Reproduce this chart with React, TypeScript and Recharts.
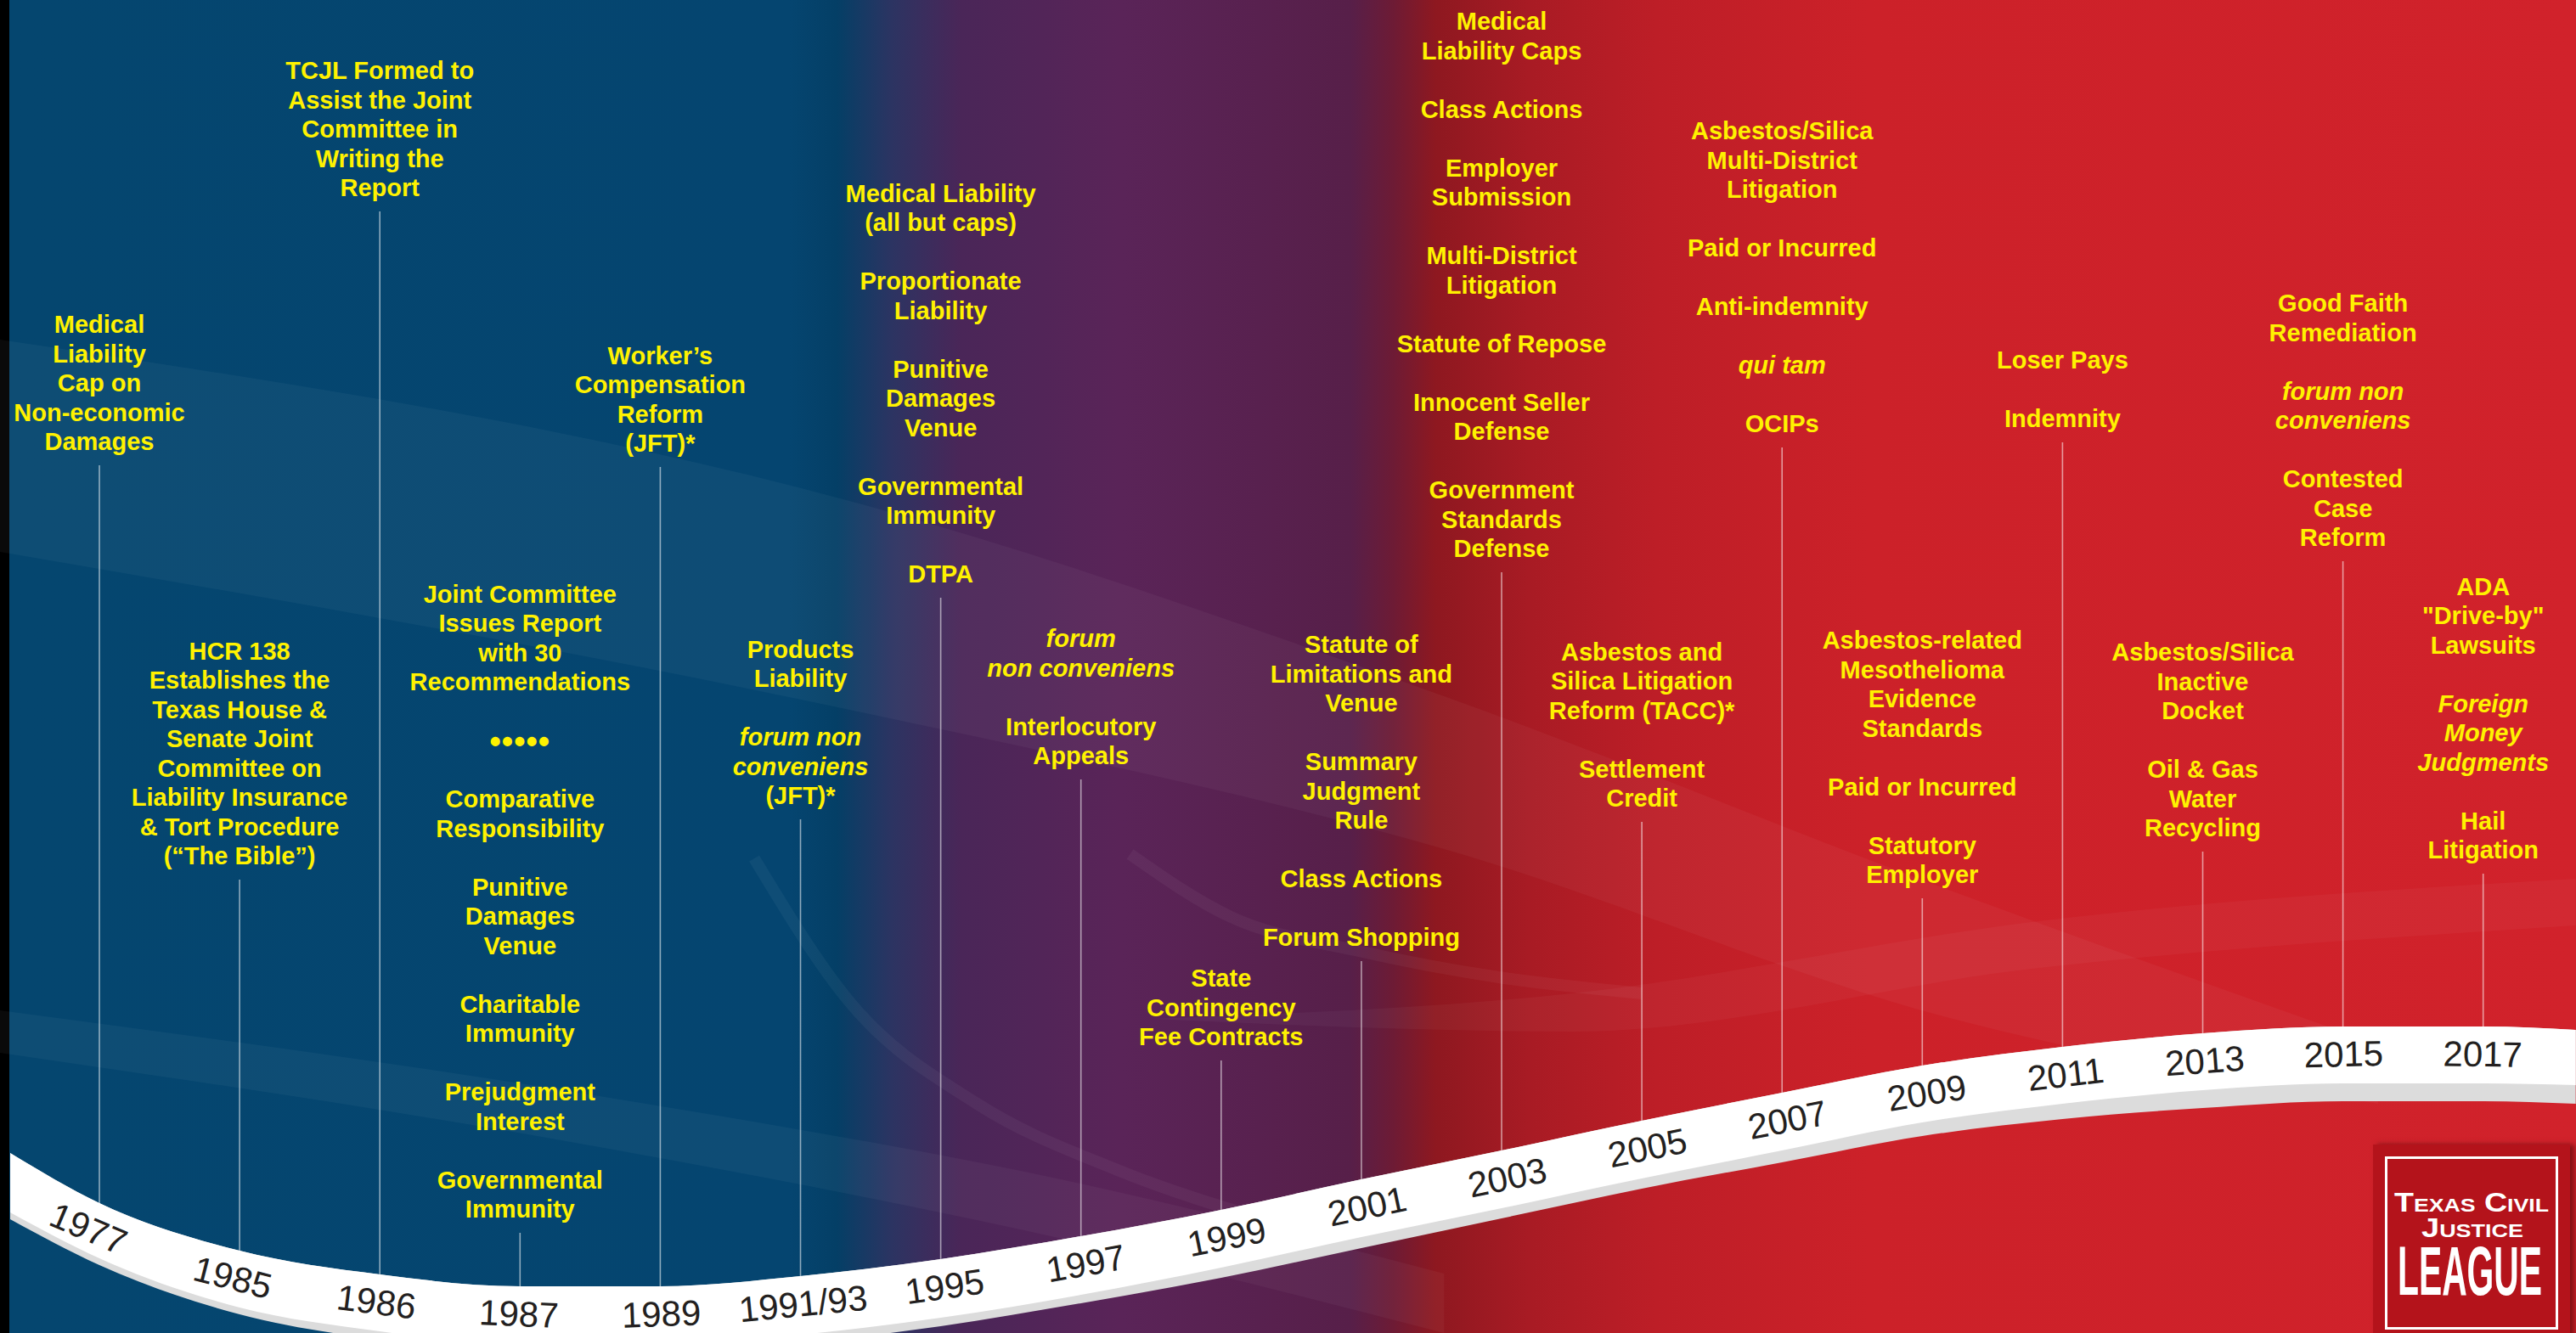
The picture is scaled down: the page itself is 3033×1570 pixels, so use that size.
import { Area, ComposedChart, Line, ReferenceLine, Scatter, XAxis, YAxis } from "recharts";

const W = 3033;
const H = 1570;

// timeline slots (one per year label), y values are distance from the top of the picture
const years = ["1977", "1985", "1986", "1987", "1989", "1991/93", "1995", "1997", "1999", "2001", "2003", "2005", "2007", "2009", "2011", "2013", "2015", "2017"];
const stemTop = [548, 1036, 249, 1452, 550, 965, 704, 918, 1249, 1132, 674, 968, 527, 1058, 521, 1003, 661, 1029];

// "~" at the start of a line = italic
const notes: string[][] = [
  ["Medical\nLiability\nCap on\nNon-economic\nDamages"],
  ["HCR 138\nEstablishes the\nTexas House &\nSenate Joint\nCommittee on\nLiability Insurance\n& Tort Procedure\n(“The Bible”)"],
  ["TCJL Formed to\nAssist the Joint\nCommittee in\nWriting the\nReport"],
  ["Joint Committee\nIssues Report\nwith 30\nRecommendations", "•••••", "Comparative\nResponsibility", "Punitive\nDamages\nVenue", "Charitable\nImmunity", "Prejudgment\nInterest", "Governmental\nImmunity"],
  ["Worker’s\nCompensation\nReform\n(JFT)*"],
  ["Products\nLiability", "~forum non\n~conveniens\n(JFT)*"],
  ["Medical Liability\n(all but caps)", "Proportionate\nLiability", "Punitive\nDamages\nVenue", "Governmental\nImmunity", "DTPA"],
  ["~forum\n~non conveniens", "Interlocutory\nAppeals"],
  ["State\nContingency\nFee Contracts"],
  ["Statute of\nLimitations and\nVenue", "Summary\nJudgment\nRule", "Class Actions", "Forum Shopping"],
  ["Medical\nLiability Caps", "Class Actions", "Employer\nSubmission", "Multi-District\nLitigation", "Statute of Repose", "Innocent Seller\nDefense", "Government\nStandards\nDefense"],
  ["Asbestos and\nSilica Litigation\nReform (TACC)*", "Settlement\nCredit"],
  ["Asbestos/Silica\nMulti-District\nLitigation", "Paid or Incurred", "Anti-indemnity", "~qui tam", "OCIPs"],
  ["Asbestos-related\nMesothelioma\nEvidence\nStandards", "Paid or Incurred", "Statutory\nEmployer"],
  ["Loser Pays", "Indemnity"],
  ["Asbestos/Silica\nInactive\nDocket", "Oil & Gas\nWater\nRecycling"],
  ["Good Faith\nRemediation", "~forum non\n~conveniens", "Contested\nCase\nReform"],
  ["ADA\n\"Drive-by\"\nLawsuits", "~Foreign\n~Money\n~Judgments", "Hail\nLitigation"],
];

// white ribbon: left edge, one point per year, right edge
const ribbonX = [-0.636, 0, 1, 2, 3, 4, 5, 6, 7, 8, 9, 10, 11, 12, 13, 14, 15, 16, 17, 17.66];
const ribbonTop = [1358, 1417, 1473, 1501, 1515, 1515, 1503, 1483, 1456, 1425, 1389, 1355, 1320, 1287, 1255, 1233, 1217, 1209, 1209, 1213];
const ribbonBottom = [1428, 1482, 1540, 1568, 1585, 1585, 1572, 1552, 1525, 1493, 1457, 1423, 1388, 1355, 1322, 1300, 1284, 1276, 1276, 1278];
const ribbonShade = [1436, 1490, 1548, 1578, 1595, 1595, 1582, 1562, 1535, 1505, 1470, 1435, 1400, 1369, 1338, 1318, 1305, 1297, 1297, 1300];

// faint background swooshes
const swoopX = [-0.709, 5.35, 9.59, 13.22, 16.25];
const swoopUpper = [400, 590, 820, 1050, 1230];
const swoopLower = [650, 836, 1000, 1200, 1300];
const lowSwoopX = [-0.709, 3.53, 7.16, 9.59];
const lowSwoopUpper = [1190, 1290, 1400, 1500];
const lowSwoopLower = [1240, 1350, 1470, 1570];
const riseX = [7.5, 10.5, 13.83, 17.66];
const riseUpper = [1200, 1170, 1085, 1035];
const riseLower = [1200, 1215, 1140, 1090];
const arcX = [4.67, 5.35, 6.26, 7.26, 8.38];
const arcY = [1011, 1180, 1300, 1378, 1440];
const arc2X = [7.35, 8.07, 8.98, 9.98, 11.0];
const arc2Y = [1006, 1080, 1120, 1151, 1170];

const X_MIN = -0.7087;
const X_MAX = 17.662;
const PX_PER_SLOT = W / (X_MAX - X_MIN);

const FONT = "'Liberation Sans', Arial, Helvetica, sans-serif";
const LINE_H = 34.5;
const GAP = 28;

const band = (xs: number[], a: number[], b: number[]) => xs.map((slot, i) => ({ slot, v: [a[i], b[i]] }));
const path = (xs: number[], ys: number[]) => xs.map((slot, i) => ({ slot, v: ys[i] }));

const ribbonWhite = band(ribbonX, ribbonTop, ribbonBottom);
const ribbonGray = band(ribbonX, ribbonTop, ribbonShade);

const rows = years.map((year, i) => {
  const prev = ribbonTop[i];
  const next = ribbonTop[i + 2];
  const dx = (ribbonX[i + 2] - ribbonX[i]) * PX_PER_SLOT;
  return {
    slot: i,
    year,
    top: stemTop[i],
    ribbon: ribbonTop[i + 1],
    angle: (Math.atan2(next - prev, dx) * 180) / Math.PI,
    items: notes[i],
  };
});

const NoteBlock = (props: any) => {
  const { cx, cy, payload } = props;
  const lines: string[] = [];
  payload.items.forEach((item: string, k: number) => {
    if (k) lines.push("");
    lines.push(...item.split("\n"));
  });
  const n = lines.length;
  return (
    <g>
      {lines.map((ln, j) =>
        ln ? (
          <text
            key={j}
            x={cx}
            y={cy - GAP - (n - 1 - j) * LINE_H}
            dy="0.36em"
            textAnchor="middle"
            fontFamily={FONT}
            fontWeight="bold"
            fontStyle={ln.startsWith("~") ? "italic" : "normal"}
            fontSize={ln.startsWith("•") ? 38 : 29}
            letterSpacing={ln.startsWith("•") ? 1 : 0}
            fill="#fff200"
          >
            {ln.replace(/^~/, "")}
          </text>
        ) : null
      )}
    </g>
  );
};

const YearLabel = (props: any) => {
  const { cx, cy, payload } = props;
  return (
    <g transform={`rotate(${payload.angle} ${cx} ${cy})`}>
      <text x={cx} y={cy + 32} dy="0.36em" textAnchor="middle" fontFamily={FONT} fontSize={42} fill="#231f20">
        {payload.year}
      </text>
    </g>
  );
};

const Logo = () => (
  <div
    style={{
      position: "absolute",
      left: 2794,
      top: 1348,
      width: 232,
      height: 240,
      background: "#b4131b",
      boxShadow: "5px 0 6px rgba(60,0,0,0.55)",
    }}
  >
    <svg width={232} height={240}>
      <rect x={15.5} y={15.5} width={201} height={201} fill="none" stroke="#fff" strokeWidth={3} />
      <text x={116} y={79} textAnchor="middle" fill="#fff" fontFamily={FONT} fontWeight="bold" fontSize={31} fontVariant="small-caps" textLength={182} lengthAdjust="spacingAndGlyphs">
        Texas Civil
      </text>
      <text x={117} y={109} textAnchor="middle" fill="#fff" fontFamily={FONT} fontWeight="bold" fontSize={31} fontVariant="small-caps" textLength={120} lengthAdjust="spacingAndGlyphs">
        Justice
      </text>
      <text x={114} y={177} textAnchor="middle" fill="#fff" fontFamily={FONT} fontWeight="bold" fontSize={81} textLength={170} lengthAdjust="spacingAndGlyphs">
        LEAGUE
      </text>
    </svg>
  </div>
);

const background =
  "linear-gradient(to right, #000 0px, #000 11px, #05466f 11px, #054570 930px, #043f66 985px, #2c3462 1050px, #4a2658 1131px, #5a2458 1320px, #571f49 1590px, #6d1b35 1640px, #8e1820 1690px, #a81b24 1800px, #bd1e27 1950px, #cc2129 2200px, #d1222b 3033px)";

export default function App() {
  return (
    <div style={{ position: "relative", width: W, height: H, background, overflow: "hidden" }}>
      <style>{"body{margin:0}"}</style>
      <ComposedChart width={W} height={H} data={rows} margin={{ top: 0, right: 0, bottom: 0, left: 0 }}>
        <XAxis dataKey="slot" type="number" domain={[X_MIN, X_MAX]} allowDataOverflow hide />
        <YAxis type="number" domain={[0, H]} reversed allowDataOverflow hide />

        <Area data={band(swoopX, swoopUpper, swoopLower)} dataKey="v" type="monotone" stroke="none" fill="#ffffff" fillOpacity={0.04} dot={false} activeDot={false} isAnimationActive={false} />
        <Area data={band(lowSwoopX, lowSwoopUpper, lowSwoopLower)} dataKey="v" type="monotone" stroke="none" fill="#ffffff" fillOpacity={0.04} dot={false} activeDot={false} isAnimationActive={false} />
        <Area data={band(riseX, riseUpper, riseLower)} dataKey="v" type="monotone" stroke="none" fill="#ffffff" fillOpacity={0.035} dot={false} activeDot={false} isAnimationActive={false} />
        <Line data={path(arcX, arcY)} dataKey="v" type="monotone" stroke="#ffffff" strokeOpacity={0.045} strokeWidth={14} dot={false} activeDot={false} isAnimationActive={false} />
        <Line data={path(arc2X, arc2Y)} dataKey="v" type="monotone" stroke="#ffffff" strokeOpacity={0.045} strokeWidth={14} dot={false} activeDot={false} isAnimationActive={false} />

        {rows.map((r) => (
          <ReferenceLine
            key={r.year}
            segment={[
              { x: r.slot, y: r.top },
              { x: r.slot, y: r.ribbon + 2 },
            ]}
            stroke="#ffffff"
            strokeOpacity={0.55}
            strokeWidth={1.6}
          />
        ))}

        <Area data={ribbonGray} dataKey="v" type="monotone" stroke="none" fill="#dcdcdc" fillOpacity={1} dot={false} activeDot={false} isAnimationActive={false} />
        <Area data={ribbonWhite} dataKey="v" type="monotone" stroke="none" fill="#ffffff" fillOpacity={1} dot={false} activeDot={false} isAnimationActive={false} />

        <Scatter data={rows} dataKey="ribbon" shape={(p: any) => <YearLabel {...p} />} isAnimationActive={false} />
        <Scatter data={rows} dataKey="top" shape={(p: any) => <NoteBlock {...p} />} isAnimationActive={false} />
      </ComposedChart>
      <Logo />
    </div>
  );
}
